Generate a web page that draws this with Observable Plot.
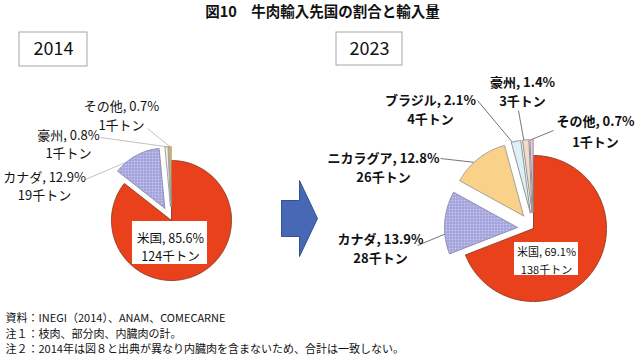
<!DOCTYPE html>
<html>
<head>
<meta charset="utf-8">
<script src="https://cdn.jsdelivr.net/npm/d3@7"></script>
<script src="https://cdn.jsdelivr.net/npm/@observablehq/plot@0.6"></script>
<style>
  html, body { margin: 0; padding: 0; background: #fff; }
</style>
</head>
<body>
<div id="chart"></div>
<script>
// ---------- data ----------
const title = "図10　牛肉輸入先国の割合と輸入量";
const years = ["2014", "2023"];
const cats2014 = ["米国", "カナダ", "豪州", "その他"];
const share2014 = [85.6, 12.9, 0.8, 0.7];
const tons2014 = [124, 19, 1, 1];
const cats2023 = ["米国", "カナダ", "ニカラグア", "ブラジル", "豪州", "その他"];
const share2023 = [69.1, 13.9, 12.8, 2.1, 1.4, 0.7];
const tons2023 = [138, 28, 26, 4, 3, 1];
const unit = "千トン";
const notes = [
  "資料：INEGI（2014）、ANAM、COMECARNE",
  "注１：枝肉、部分肉、内臓肉の計。",
  "注２：2014年は図８と出典が異なり内臓肉を含まないため、合計は一致しない。"
];

// ---------- layout & style (not data) ----------
const pieLayout = {
  "2014": {cx: 171, cy: 220, r: 60, explode: 14, box: [19, 32, 87, 66]},
  "2023": {cx: 533, cy: 228, r: 73, explode: 16, box: [336, 32, 402, 65]}
};
const sliceStyle = {
  "2014|米国": {fill: "#E9411B", stroke: "#8a3a22"},
  "2014|カナダ": {fill: "url(#hatch)", stroke: "#8888aa"},
  "2014|豪州": {fill: "#F4F4F4", stroke: "#999"},
  "2014|その他": {fill: "#F2B53A", stroke: "#999"},
  "2023|米国": {fill: "#E9411B", stroke: "#8a3a22"},
  "2023|カナダ": {fill: "url(#hatch)", stroke: "#8888aa"},
  "2023|ニカラグア": {fill: "#F9D189", stroke: "#999"},
  "2023|ブラジル": {fill: "#DDF0F6", stroke: "#888"},
  "2023|豪州": {fill: "#F1DCCB", stroke: "#888"},
  "2023|その他": {fill: "#F4C6E6", stroke: "#888"}
};
// label placement: text block centre, leader start, leader end position within slice (t along angle, rf radius fraction)
const labelLayout = {
  "2014|米国": {x: 170, y: 245.5, box: [132, 221, 207, 264], size: 12.5, weight: "normal", lh: 1.45},
  "2014|カナダ": {x: 44, y: 184.5, lx: 85, ly: 179, t: 0.26, rf: 1, size: 13, weight: "normal", lh: 1.45},
  "2014|豪州": {x: 68, y: 142.5, lx: 100, ly: 137, t: 0.5, rf: 1, size: 13, weight: "normal", lh: 1.45},
  "2014|その他": {x: 121, y: 114, lx: 147, ly: 128, t: 0.5, rf: 1, size: 13, weight: "normal", lh: 1.45},
  "2023|米国": {x: 546, y: 259, box: [514, 242, 578, 275], size: 11, weight: "normal", lh: 1.6},
  "2023|カナダ": {x: 380, y: 246.5, lx: 417, ly: 245, t: 0.32, rf: 1, size: 13, weight: "bold", lh: 1.5},
  "2023|ニカラグア": {x: 383, y: 165.5, lx: 440, ly: 158, t: 0.4, rf: 1, size: 13, weight: "bold", lh: 1.5},
  "2023|ブラジル": {x: 430, y: 108, lx: 477, ly: 100, t: 0.1, rf: 1, size: 13, weight: "bold", lh: 1.5},
  "2023|豪州": {x: 522, y: 90, lx: 518, ly: 110, t: 0.2, rf: 1, size: 13, weight: "bold", lh: 1.5},
  "2023|その他": {x: 595, y: 129.5, lx: 553, ly: 130, t: 0.5, rf: 1, size: 13, weight: "bold", lh: 1.55}
};
const leaderColor = {"2014": "#bbbbbb", "2023": "#666666"};
const arrowShape = [[281, 200], [299, 200], [299, 180], [317, 218], [299, 256], [299, 236], [281, 236], [281, 200]];

// ---------- build geometry from data ----------
const series = {
  "2014": {cats: cats2014, share: share2014, tons: tons2014},
  "2023": {cats: cats2023, share: share2023, tons: tons2023}
};
const wedgePts = [];
const labels = [];
const leaders = [];
const pie = d3.pie().sort(null).value(d => d.share).startAngle(0).endAngle(2 * Math.PI);

for (const yr of years) {
  const s = series[yr];
  const L = pieLayout[yr];
  const rows = s.cats.map((c, i) => ({cat: c, share: s.share[i], tons: s.tons[i]}));
  for (const a of pie(rows)) {
    const key = yr + "|" + a.data.cat;
    const mid = (a.startAngle + a.endAngle) / 2;
    const ex = a.data.cat === "米国" ? 0 : L.explode;
    const cx = L.cx + ex * Math.sin(mid);
    const cy = L.cy - ex * Math.cos(mid);
    const st = sliceStyle[key];
    const n = Math.max(2, Math.ceil((a.endAngle - a.startAngle) / (Math.PI / 180)));
    wedgePts.push({id: key, x: cx, y: cy, fill: st.fill, stroke: st.stroke});
    for (let k = 0; k <= n; k++) {
      const ang = a.startAngle + (a.endAngle - a.startAngle) * k / n;
      wedgePts.push({id: key, x: cx + L.r * Math.sin(ang), y: cy - L.r * Math.cos(ang), fill: st.fill, stroke: st.stroke});
    }
    wedgePts.push({id: key, x: cx, y: cy, fill: st.fill, stroke: st.stroke});

    const lb = labelLayout[key];
    labels.push({
      key, x: lb.x, y: lb.y, size: lb.size, weight: lb.weight, lh: lb.lh, box: lb.box,
      text: `${a.data.cat}, ${a.data.share.toFixed(1)}%\n${a.data.tons}${unit}`
    });
    if (lb.lx !== undefined) {
      const ang = a.startAngle + (a.endAngle - a.startAngle) * lb.t;
      leaders.push({
        x1: lb.lx, y1: lb.ly,
        x2: cx + L.r * lb.rf * Math.sin(ang), y2: cy - L.r * lb.rf * Math.cos(ang),
        stroke: leaderColor[yr]
      });
    }
  }
}

const yearBoxes = years.map(yr => {
  const b = pieLayout[yr].box;
  return {label: yr, x1: b[0], y1: b[1], x2: b[2], y2: b[3], xc: (b[0] + b[2]) / 2, yc: (b[1] + b[3]) / 2};
});
const usBoxes = labels.filter(d => d.box).map(d => ({x1: d.box[0], y1: d.box[1], x2: d.box[2], y2: d.box[3]}));
const arrowPts = arrowShape.map(([x, y]) => ({x, y}));
const noteRows = notes.map((t, i) => ({t, y: 318 + i * 15.5}));

const labelMarks = labels.map(d => Plot.text([d], {
  x: "x", y: "y", text: "text", fontSize: d.size, fontWeight: d.weight,
  lineHeight: d.lh, lineAnchor: "middle", textAnchor: "middle", fill: "#111"
}));

const svg = Plot.plot({
  width: 640,
  height: 359,
  margin: 0,
  x: {type: "identity", axis: null},
  y: {type: "identity", axis: null},
  color: {type: "identity"},
  style: {fontFamily: "'Noto Sans CJK JP', 'Noto Sans', sans-serif", background: "#fff", overflow: "visible"},
  marks: [
    // title
    Plot.text([title], {x: () => 322, y: () => 12, text: d => d, fontSize: 14.5, fontWeight: "bold", fill: "#111"}),
    // year boxes
    Plot.rect(yearBoxes, {x1: "x1", x2: "x2", y1: "y1", y2: "y2", fill: "#fff", stroke: "#a6a6a6", strokeWidth: 1}),
    Plot.text(yearBoxes, {x: "xc", y: "yc", text: "label", fontSize: 18, fill: "#111"}),
    // leaders
    Plot.link(leaders, {x1: "x1", y1: "y1", x2: "x2", y2: "y2", stroke: "stroke", strokeWidth: 0.9}),
    // wedges
    Plot.line(wedgePts, {x: "x", y: "y", z: "id", fill: "fill", stroke: "stroke", strokeWidth: 0.9, curve: "linear", strokeLinejoin: "round"}),
    // arrow
    Plot.line(arrowPts, {x: "x", y: "y", fill: "#4668B5", stroke: "#34528f", strokeWidth: 1}),
    // US label boxes
    Plot.rect(usBoxes, {x1: "x1", x2: "x2", y1: "y1", y2: "y2", fill: "#fff"}),
    ...labelMarks,
    // notes
    Plot.text(noteRows, {x: () => 5, y: "y", text: "t", textAnchor: "start", fontSize: 11, fill: "#111"})
  ]
});

d3.select(svg).insert("defs", ":first-child").html(`
  <pattern id="hatch" width="3" height="3" patternUnits="userSpaceOnUse">
    <rect width="3" height="3" fill="#C4C4EE"/>
    <path d="M0 0.5H3M0.5 0V3" stroke="#9696D4" stroke-width="0.9"/>
  </pattern>`);

document.getElementById("chart").appendChild(svg);
</script>
</body>
</html>
